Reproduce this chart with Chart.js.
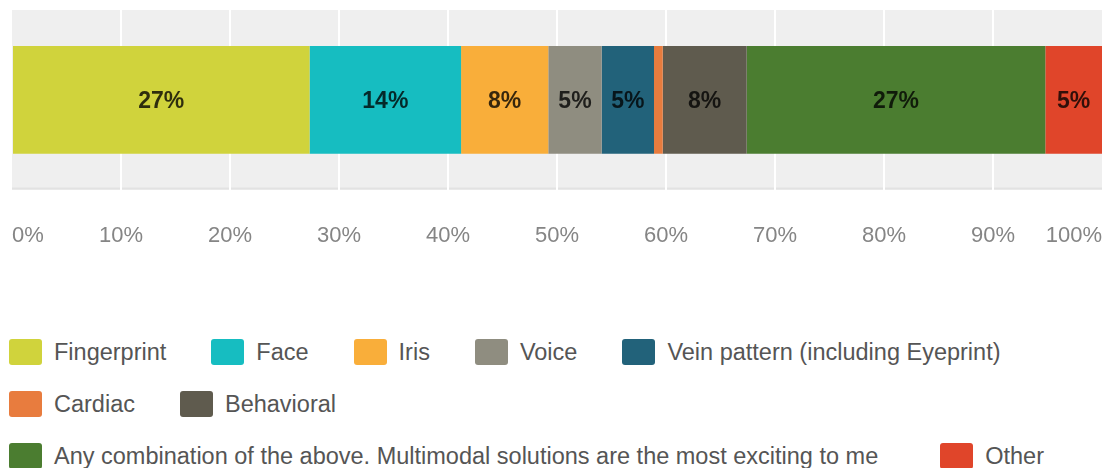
<!DOCTYPE html>
<html>
<head>
<meta charset="utf-8">
<script src="https://cdn.jsdelivr.net/npm/chart.js@4.4.1/dist/chart.umd.min.js"></script>
<style>
    body { margin: 0; background: #fff; font-family: 'Liberation Sans', Arial, sans-serif; }
    #wrap { width: 1105px; height: 258px; position: relative; }
    #legend { margin-top: 68px; padding-left: 9px; }
    .row { display: flex; align-items: center; height: 52px; }
    .item { display: flex; align-items: center; margin-right: 45px; font-size: 23.5px; color: #555; white-space: nowrap; }
    .row:last-child .item { margin-right: 62px; }
    .box { width: 33px; height: 26px; border-radius: 3px; margin-right: 12px; }
</style>
</head>
<body>
<div id="wrap"><canvas id="biometricChart"></canvas></div>
<div id="legend"></div>
<script>
// 응답 항목 (범례 순서 = 막대 누적 순서)
const categories = [
    'Fingerprint',
    'Face',
    'Iris',
    'Voice',
    'Vein pattern (including Eyeprint)',
    'Cardiac',
    'Behavioral',
    'Any combination of the above. Multimodal solutions are the most exciting to me',
    'Other',
];
// 비율(%) - 그림에서 읽은 값
const shares = [27.3, 13.9, 8.0, 4.9, 4.8, 0.8, 7.7, 27.4, 5.2];
const colors = ['#d0d33c', '#16bdc1', '#f9ae3a', '#8f8d80', '#22627a', '#e87c3e', '#5f5b4e', '#4b7d30', '#e0452a'];
const xTicks = [0, 10, 20, 30, 40, 50, 60, 70, 80, 90, 100];
// 범례 줄 나눔
const legendRows = [[0, 1, 2, 3, 4], [5, 6], [7, 8]];

const fontFamily = "'Liberation Sans', Arial, sans-serif";

// 차트 영역 회색 배경
const plotBackground = {
    id: 'plotBackground',
    beforeDraw(chart) {
        const {ctx, chartArea: a} = chart;
        ctx.save();
        ctx.fillStyle = '#efefef';
        ctx.fillRect(a.left, a.top, a.right - a.left, a.bottom - a.top);
        ctx.fillStyle = '#e2e2e2';
        ctx.fillRect(a.left, a.bottom - 2, a.right - a.left, 2);
        ctx.restore();
    }
};

// 막대 가운데 % 라벨
const valueLabels = {
    id: 'valueLabels',
    afterDatasetsDraw(chart) {
        const {ctx} = chart;
        ctx.save();
        ctx.font = `bold 23px ${fontFamily}`;
        ctx.fillStyle = 'rgba(0,0,0,0.78)';
        ctx.textAlign = 'center';
        ctx.textBaseline = 'middle';
        chart.data.datasets.forEach((ds, i) => {
            const v = ds.data[0];
            if (v < 2) return; // 너무 얇은 구간은 표시 안 함
            const el = chart.getDatasetMeta(i).data[0];
            const p = el.getCenterPoint();
            ctx.fillText(`${Math.round(v)}%`, p.x, p.y + 2);
        });
        ctx.restore();
    }
};

const ctx = document.getElementById('biometricChart').getContext('2d');

const chart = new Chart(ctx, {
    type: 'bar',
    data: {
        labels: [''],
        datasets: categories.map((name, i) => ({
            label: name,
            data: [shares[i]],
            backgroundColor: colors[i],
            borderWidth: 0,
            barPercentage: 0.6,
            categoryPercentage: 1,
        })),
    },
    options: {
        indexAxis: 'y', // 수평 바 차트
        responsive: true,
        maintainAspectRatio: false,
        animation: false,
        layout: {padding: {top: 10, left: 12, right: 3, bottom: 6}},
        plugins: {
            legend: {display: false}, // HTML 범례 사용
            tooltip: {enabled: false},
        },
        scales: {
            x: {
                stacked: true,
                min: 0,
                max: 100,
                afterBuildTicks: (scale) => {
                    scale.ticks = xTicks.map(v => ({value: v}));
                },
                ticks: {
                    align: 'inner',
                    padding: 3,
                    color: '#858585',
                    font: {size: 22, family: fontFamily},
                    callback: (value) => `${value}%`,
                },
                grid: {
                    color: (c) => (c.tick && (c.tick.value === 0 || c.tick.value === 100)) ? 'transparent' : '#ffffff',
                    lineWidth: 2,
                    drawTicks: true,
                    tickLength: 30,
                    tickColor: 'transparent',
                },
                border: {display: false},
            },
            y: {
                stacked: true,
                display: false,
            },
        }
    },
    plugins: [plotBackground, valueLabels],
});

// HTML 범례
const legendEl = document.getElementById('legend');
legendRows.forEach(row => {
    const rowEl = document.createElement('div');
    rowEl.className = 'row';
    row.forEach(i => {
        const ds = chart.data.datasets[i];
        const item = document.createElement('div');
        item.className = 'item';
        const box = document.createElement('span');
        box.className = 'box';
        box.style.background = ds.backgroundColor;
        const txt = document.createElement('span');
        txt.textContent = ds.label;
        item.appendChild(box);
        item.appendChild(txt);
        rowEl.appendChild(item);
    });
    legendEl.appendChild(rowEl);
});
</script>
</body>
</html>
